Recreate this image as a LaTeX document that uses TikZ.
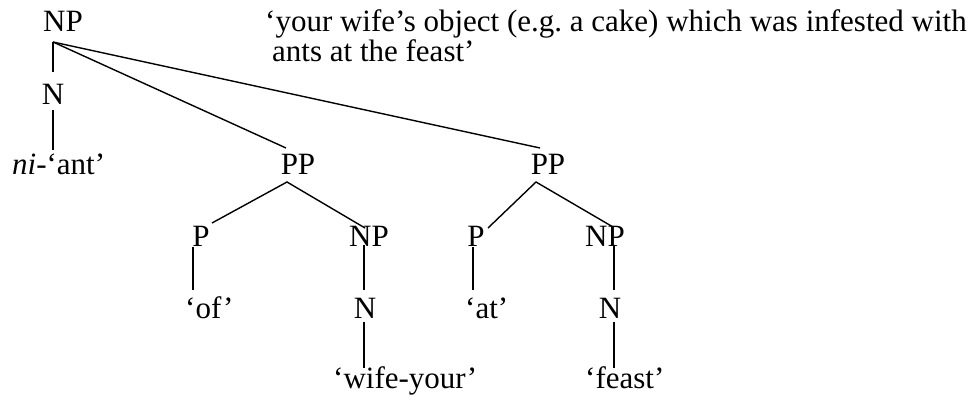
\documentclass[tikz,border=0pt]{standalone}
\usepackage{fontspec}
\setmainfont{Liberation Serif}
\frenchspacing
\begin{document}
\begin{tikzpicture}[x=1pt,y=-1pt,
  lbl/.style={inner sep=0pt,anchor=base,font=\fontsize{31}{30}\selectfont},
  lblw/.style={lbl,anchor=base west},
  edge/.style={line width=1.4pt,line cap=butt}]
\useasboundingbox (0,0) rectangle (978,401);
% labels
\node[lbl] (np) at (63,32) {NP};
\node[lbl] (n) at (53,105) {N};
\node[lblw] (ant) at (12,175) {\textit{ni}-‘ant’};
\node[lbl] (pp1) at (298,175) {PP};
\node[lbl] (pp2) at (548,175) {PP};
\node[lbl] (p1) at (201,247) {P};
\node[lbl] (np1) at (369,247) {NP};
\node[lbl] (p2) at (476,247) {P};
\node[lbl] (np2) at (605,247) {NP};
\node[lblw] (of) at (185,318) {‘of’};
\node[lbl] (n1) at (365,318) {N};
\node[lblw] (at) at (465,318) {‘at’};
\node[lbl] (n2) at (610,318) {N};
\node[lblw] (wife) at (333,388) {‘wife-your’};
\node[lblw] (feast) at (585,388) {‘feast’};
\node[lblw] (gl1) at (265,32) {‘your wife’s object (e.g.\ a cake) which was infested with};
\node[lblw] (gl2) at (272,62) {ants at the feast’};
% connector end points
\coordinate (npB) at (53,42);
\coordinate (nT) at (53,72);
\coordinate (nB) at (53,110);
\coordinate (antT) at (53,150);
\coordinate (pp1T) at (286,148);
\coordinate (pp2T) at (540,148);
\coordinate (pp1B) at (287,182);
\coordinate (p1T) at (212,223);
\coordinate (np1T) at (365,228);
\coordinate (p1B) at (193,247);
\coordinate (ofT) at (193,290);
\coordinate (np1B) at (364,245);
\coordinate (n1T) at (364,290);
\coordinate (n1B) at (364,322);
\coordinate (wifeT) at (364,368);
\coordinate (pp2B) at (536,182);
\coordinate (p2T) at (488,228);
\coordinate (np2T) at (613,227);
\coordinate (p2B) at (473,247);
\coordinate (atT) at (473,290);
\coordinate (np2B) at (614,245);
\coordinate (n2T) at (614,290);
\coordinate (n2B) at (614,322);
\coordinate (feastT) at (614,368);
% connectors
\draw[edge] (npB) -- (nT);
\draw[edge] (nB) -- (antT);
\draw[edge] (npB) -- (pp1T);
\draw[edge] (npB) -- (pp2T);
\draw[edge] (p1T) -- (pp1B) -- (np1T);
\draw[edge] (p1B) -- (ofT);
\draw[edge] (np1B) -- (n1T);
\draw[edge] (n1B) -- (wifeT);
\draw[edge] (p2T) -- (pp2B) -- (np2T);
\draw[edge] (p2B) -- (atT);
\draw[edge] (np2B) -- (n2T);
\draw[edge] (n2B) -- (feastT);
\end{tikzpicture}
\end{document}
